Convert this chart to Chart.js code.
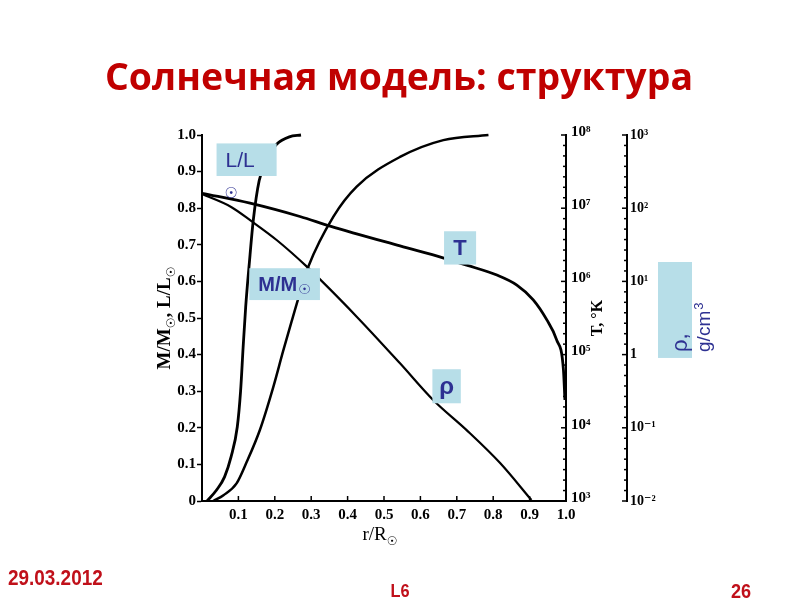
<!DOCTYPE html>
<html>
<head>
<meta charset="utf-8">
<script src="https://cdn.jsdelivr.net/npm/chart.js@4.4.1/dist/chart.umd.min.js"></script>
<style>
  html, body { margin: 0; padding: 0; background: #fff; }
</style>
</head>
<body>
<canvas id="chart" width="800" height="600"></canvas>
<script>
// values, x is r/R_sun
const lumR = [0.014, 0.040, 0.062, 0.080, 0.097, 0.106, 0.113, 0.120, 0.130, 0.141, 0.157, 0.180, 0.205, 0.240, 0.272]
const lumVal = [0, 0.03, 0.066, 0.121, 0.203, 0.30, 0.42, 0.53, 0.65, 0.768, 0.875, 0.94, 0.975, 0.995, 1.0]

const massR = [0.031, 0.059, 0.095, 0.123, 0.159, 0.196, 0.223, 0.246, 0.269, 0.292, 0.361, 0.425, 0.544, 0.663, 0.787]
const massVal = [0, 0.016, 0.048, 0.107, 0.194, 0.312, 0.41, 0.49, 0.568, 0.640, 0.777, 0.859, 0.940, 0.986, 1.0]

// temperature, K
const tempR = [0, 0.132, 0.269, 0.352, 0.544, 0.662, 0.727, 0.810, 0.865, 0.910, 0.947, 0.974, 0.993, 0.997]
const tempK = [1.6e7, 1.17e7, 7.7e6, 5.7e6, 3.05e6, 2.1e6, 1.67e6, 1.22e6, 8.9e5, 5.6e5, 3.0e5, 1.6e5, 6.2e4, 2.4e4]

// density, g/cm3
const rhoR = [0, 0.080, 0.135, 0.205, 0.288, 0.425, 0.544, 0.635, 0.727, 0.819, 0.905]
const rhoVal = [156, 104, 67, 36.8, 15.9, 3.3, 0.76, 0.24, 0.093, 0.033, 0.0103]

const xTickValues = [0.1, 0.2, 0.3, 0.4, 0.5, 0.6, 0.7, 0.8, 0.9, 1.0]
const tempTicks = [1e3, 1e4, 1e5, 1e6, 1e7, 1e8]
const tempTickLabels = ['10³', '10⁴', '10⁵', '10⁶', '10⁷', '10⁸']
const rhoTicks = [1e-2, 1e-1, 1, 1e1, 1e2, 1e3]
const rhoTickLabels = ['10⁻²', '10⁻¹', '1', '10¹', '10²', '10³']

const titleText = 'Солнечная модель: структура'
const yTitleParts = ['M/M', '☉', ', L/L', '☉']
const xTitleParts = ['r/R', '☉']
const footDate = '29.03.2012'
const footLecture = 'L6'
const footPage = '26'

const serif = '"Liberation Serif", "DejaVu Serif", serif'
const sans = '"Liberation Sans", Arial, sans-serif'
const sunFont = '"DejaVu Sans", sans-serif'
const blue = '#2e3192'
const boxFill = '#b7dee8'
const red = '#c00000'

function pts(xs, ys) {
  return xs.map((x, i) => ({ x: x, y: ys[i] }))
}

function labelFor(ticks, labels, v) {
  const i = ticks.findIndex(t => Math.abs(Math.log10(t) - Math.log10(v)) < 1e-6)
  return i < 0 ? '' : labels[i]
}

function tick(ctx, x1, y1, x2, y2) {
  ctx.beginPath()
  ctx.moveTo(x1, y1)
  ctx.lineTo(x2, y2)
  ctx.stroke()
}

// text where every odd part is a small lowered sun sign, centered on 0,0
function sunText(ctx, parts, font, size) {
  const fonts = parts.map((p, i) => i % 2 ? (Math.round(size * 0.62) + 'px ' + sunFont) : font)
  const widths = parts.map((p, i) => { ctx.font = fonts[i]; return ctx.measureText(p).width })
  let x = -widths.reduce((a, b) => a + b, 0) / 2
  ctx.textAlign = 'left'
  ctx.textBaseline = 'alphabetic'
  parts.forEach((p, i) => {
    ctx.font = fonts[i]
    ctx.fillText(p, x, i % 2 ? size * 0.25 : 0)
    x += widths[i]
  })
}

// log axes: long tick per decade, 6 short ones between, all pointing into the plot
function drawLogTicks(ctx, scale, majors) {
  const x = scale.left
  for (let i = 0; i < majors.length; i++) {
    const p = scale.getPixelForValue(majors[i])
    tick(ctx, x, p, x - 5, p)
    if (i + 1 < majors.length) {
      const q = scale.getPixelForValue(majors[i + 1])
      for (let k = 1; k < 7; k++) {
        const m = p + (q - p) * k / 7
        tick(ctx, x, m, x - 3, m)
      }
    }
  }
}

// boxed labels, placed in data units of x / y
const notes = [
  { text: 'L/L', bold: false, size: 21, x0: 0.040, x1: 0.205, y0: 0.977, y1: 0.888, left: 9 },
  { text: 'M/M', sun: true, bold: true, size: 20, x0: 0.130, x1: 0.324, y0: 0.636, y1: 0.549, left: 9 },
  { text: 'T', bold: true, size: 22, x0: 0.665, x1: 0.753, y0: 0.737, y1: 0.646 },
  { text: 'ρ', bold: true, size: 24, x0: 0.633, x1: 0.711, y0: 0.360, y1: 0.267 }
]

function unitBox(chart) {
  const rs = chart.scales.yRho
  return {
    l: rs.left + 31, r: rs.left + 65,
    t: rs.getPixelForValue(18.4), b: rs.getPixelForValue(0.9)
  }
}

const decor = {
  id: 'decor',
  beforeDraw(chart) {
    // unit box sits under the density tick labels
    const ctx = chart.ctx
    const u = unitBox(chart)
    ctx.save()
    ctx.fillStyle = boxFill
    ctx.fillRect(u.l, u.t, u.r - u.l, u.b - u.t)
    ctx.restore()
  },
  afterDatasetsDraw(chart) {
    const ctx = chart.ctx
    const xs = chart.scales.x, ys = chart.scales.y
    const ts = chart.scales.yT, rs = chart.scales.yRho
    ctx.save()
    ctx.strokeStyle = '#000'
    ctx.lineWidth = 1.5
    xTickValues.forEach(v => {
      const p = xs.getPixelForValue(v)
      tick(ctx, p, xs.top, p, xs.top - 5)
    })
    drawLogTicks(ctx, ts, tempTicks)
    drawLogTicks(ctx, rs, rhoTicks)

    // label boxes
    notes.forEach(n => {
      const l = xs.getPixelForValue(n.x0), r = xs.getPixelForValue(n.x1)
      const t = ys.getPixelForValue(n.y0), b = ys.getPixelForValue(n.y1)
      ctx.fillStyle = boxFill
      ctx.fillRect(l, t, r - l, b - t)
      ctx.fillStyle = blue
      ctx.font = (n.bold ? 'bold ' : '') + n.size + 'px ' + sans
      ctx.textBaseline = 'middle'
      const cy = (t + b) / 2 + 1
      if (n.left) {
        ctx.textAlign = 'left'
        ctx.fillText(n.text, l + n.left, cy)
        if (n.sun) {
          const w = ctx.measureText(n.text).width
          ctx.font = '14px ' + sunFont
          ctx.fillText('☉', l + n.left + w + 1, cy + 5)
        }
      } else {
        ctx.textAlign = 'center'
        ctx.fillText(n.text, (l + r) / 2, cy)
      }
    })
    // the sun sign of L/L wrapped below its box
    ctx.font = '15px ' + sunFont
    ctx.textAlign = 'center'
    ctx.fillText('☉', xs.getPixelForValue(0.080), ys.getPixelForValue(0.839))

    // axis titles
    ctx.fillStyle = '#000'
    ctx.save()
    ctx.translate(ys.left + 20, (ys.top + ys.bottom) / 2)
    ctx.rotate(-Math.PI / 2)
    sunText(ctx, yTitleParts, 'bold 19px ' + serif, 19)
    ctx.restore()

    ctx.save()
    ctx.translate((xs.left + xs.right) / 2 - 4, xs.top + 39)
    sunText(ctx, xTitleParts, '19px ' + serif, 19)
    ctx.restore()

    ctx.font = 'bold 16px ' + serif
    ctx.textAlign = 'center'
    ctx.textBaseline = 'middle'
    ctx.save()
    ctx.translate(ts.left + 32, (ts.top + ts.bottom) / 2)
    ctx.rotate(-Math.PI / 2)
    ctx.fillText('T, °K', 0, 0)
    ctx.restore()

    // density unit text
    const u = unitBox(chart)
    ctx.fillStyle = blue
    ctx.save()
    ctx.translate(u.l + 23, u.b - 6)
    ctx.rotate(-Math.PI / 2)
    ctx.textAlign = 'left'
    ctx.textBaseline = 'middle'
    ctx.font = '22px ' + sans
    ctx.fillText('ρ,', 0, 0)
    ctx.font = '19px ' + sans
    ctx.fillText('g/cm', 0, 24)
    const gw = ctx.measureText('g/cm').width
    ctx.font = '13px ' + sans
    ctx.fillText('3', gw + 1, 18)
    ctx.restore()

    // slide title and footer
    ctx.fillStyle = red
    ctx.textBaseline = 'alphabetic'
    ctx.textAlign = 'center'
    ctx.font = 'bold 38px "Open Sans", "DejaVu Sans", sans-serif'
    const tw = ctx.measureText(titleText).width
    const sx = Math.max(0.8, Math.min(1.2, 588 / tw))
    ctx.save()
    ctx.translate(399, 90)
    ctx.scale(sx, 1)
    ctx.fillText(titleText, 0, 0)
    ctx.restore()

    ctx.fillStyle = '#c0101a'
    ctx.font = 'bold 22px ' + sans
    ctx.save()
    ctx.translate(8, 585)
    ctx.scale(0.86, 1)
    ctx.textAlign = 'left'
    ctx.fillText(footDate, 0, 0)
    ctx.restore()
    ctx.font = 'bold 19px ' + sans
    ctx.save()
    ctx.translate(400, 597)
    ctx.scale(0.86, 1)
    ctx.fillText(footLecture, 0, 0)
    ctx.restore()
    ctx.font = 'bold 21px ' + sans
    ctx.save()
    ctx.translate(741, 598)
    ctx.scale(0.86, 1)
    ctx.fillText(footPage, 0, 0)
    ctx.restore()
    ctx.restore()
  }
}

const line = { showLine: true, borderColor: '#000', pointRadius: 0, cubicInterpolationMode: 'monotone', clip: false }
const tickFont = { family: serif, weight: 'bold', size: 15 }

const ctx = document.getElementById('chart').getContext('2d')
const myChart = new Chart(ctx, {
  type: 'scatter',
  data: {
    datasets: [
      { ...line, label: 'L/L☉', data: pts(lumR, lumVal), yAxisID: 'y', borderWidth: 2.8 },
      { ...line, label: 'M/M☉', data: pts(massR, massVal), yAxisID: 'y', borderWidth: 2.5 },
      { ...line, label: 'T', data: pts(tempR, tempK), yAxisID: 'yT', borderWidth: 2.8 },
      { ...line, label: 'ρ', data: pts(rhoR, rhoVal), yAxisID: 'yRho', borderWidth: 2.2 }
    ]
  },
  options: {
    responsive: false,
    animation: false,
    layout: { padding: { left: 150, right: 143, top: 135, bottom: 51 } },
    plugins: { legend: { display: false }, tooltip: { enabled: false } },
    scales: {
      x: {
        type: 'linear', position: 'bottom', min: 0, max: 1,
        afterFit: s => { s.height = 48 },
        border: { color: '#000', width: 2 },
        grid: { drawOnChartArea: false, drawTicks: false },
        ticks: {
          stepSize: 0.1, autoSkip: false, maxRotation: 0, padding: 5, color: '#000', font: tickFont,
          callback: v => v < 0.05 ? '' : v.toFixed(1)
        }
      },
      y: {
        type: 'linear', position: 'left', min: 0, max: 1,
        afterFit: s => { s.width = 52 },
        border: { color: '#000', width: 2 },
        grid: { drawOnChartArea: false, tickLength: 5, tickColor: '#000', tickWidth: 1.5 },
        ticks: {
          stepSize: 0.1, padding: 1, color: '#000', font: tickFont,
          callback: v => v < 0.05 ? '0' : v.toFixed(1)
        }
      },
      yT: {
        type: 'logarithmic', position: 'right', min: 1e3, max: 1e8,
        afterFit: s => { s.width = 61 },
        afterBuildTicks: s => { s.ticks = tempTicks.map(v => ({ value: v })) },
        border: { color: '#000', width: 2 },
        grid: { drawOnChartArea: false, drawTicks: false },
        ticks: {
          padding: 5, labelOffset: -3, color: '#000', font: tickFont,
          callback: v => labelFor(tempTicks, tempTickLabels, v)
        }
      },
      yRho: {
        type: 'logarithmic', position: 'right', min: 1e-2, max: 1e3,
        afterFit: s => { s.width = 30 },
        afterBuildTicks: s => { s.ticks = rhoTicks.map(v => ({ value: v })) },
        border: { color: '#000', width: 2 },
        grid: { drawOnChartArea: false, drawTicks: false },
        ticks: {
          padding: 3, color: '#000', font: { family: serif, weight: 'bold', size: 14 },
          callback: v => labelFor(rhoTicks, rhoTickLabels, v)
        }
      }
    }
  },
  plugins: [decor]
})
</script>
</body>
</html>
